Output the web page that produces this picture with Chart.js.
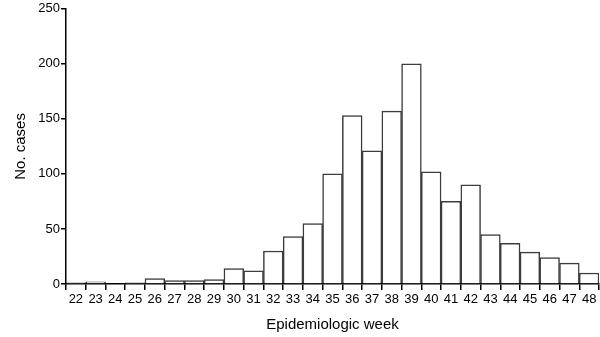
<!DOCTYPE html>
<html>
<head>
<meta charset="utf-8">
<script src="https://cdn.jsdelivr.net/npm/chart.js@4.4.1/dist/chart.umd.min.js"></script>
<style>
html,body{margin:0;padding:0;background:#fff;}
#wrap{width:600px;height:337px;position:relative;}
</style>
</head>
<body>
<div id="wrap"><canvas id="c" width="600" height="337"></canvas></div>
<script>
const weeks = ["22","23","24","25","26","27","28","29","30","31","32","33","34","35","36","37","38","39","40","41","42","43","44","45","46","47","48"];
const cases = [1,2,0,1,5,3,3,4,14,12,30,43,55,100,153,121,157,200,102,75,90,45,37,29,24,19,10];
const yTicks = [0,50,100,150,200,250];

const FONT = "'Liberation Sans', Arial, sans-serif";
new Chart(document.getElementById('c'), {
  type: 'bar',
  data: {
    labels: weeks,
    datasets: [{
      data: cases,
      backgroundColor: '#ffffff',
      borderColor: '#3c3c3c',
      borderWidth: 1.5,
      barPercentage: 1,
      categoryPercentage: 1
    }]
  },
  options: {
    responsive: false,
    animation: false,
    devicePixelRatio: 1,
    layout: { padding: { left: 0, right: 1, top: 8, bottom: 0 } },
    plugins: { legend: { display: false }, tooltip: { enabled: false } },
    scales: {
      x: {
        grid: { display: true, drawOnChartArea: false, drawTicks: true, tickLength: 6, color: '#000', lineWidth: 1.5 },
        border: { display: true, color: '#000', width: 1.5 },
        ticks: { color: '#000', font: { family: FONT, size: 13 }, padding: 2, maxRotation: 0, autoSkip: false },
        title: { display: true, text: 'Epidemiologic week', color: '#000', font: { family: FONT, size: 15 }, padding: { top: 4, bottom: 3 } },
        afterFit: (s) => { s.height = 53; }
      },
      y: {
        min: 0, max: 250,
        afterBuildTicks: (s) => { s.ticks = yTicks.map(v => ({ value: v })); },
        grid: { display: true, drawOnChartArea: false, drawTicks: true, tickLength: 5, color: '#000', lineWidth: 1.5 },
        border: { display: true, color: '#000', width: 1.5 },
        ticks: { color: '#000', font: { family: FONT, size: 13 }, padding: 1 },
        title: { display: true, text: 'No. cases', color: '#000', font: { family: FONT, size: 15 }, padding: { top: 12, bottom: 0 } },
        afterFit: (s) => { s.width = 66; }
      }
    }
  }
});
</script>
</body>
</html>
